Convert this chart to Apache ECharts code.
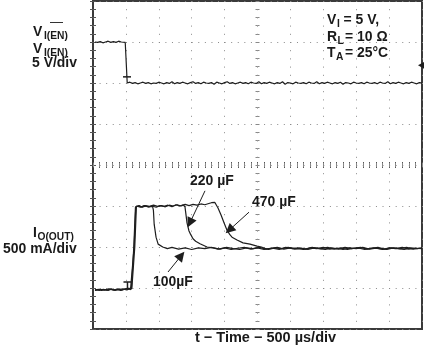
<!DOCTYPE html>
<html><head><meta charset="utf-8">
<script src="https://cdn.jsdelivr.net/npm/echarts@6/dist/echarts.min.js"></script>
<style>html,body{margin:0;padding:0;background:#fff}#c{width:424px;height:348px}</style>
</head><body><div id="c"></div>
<script>
// Time axis: µs (500 µs/div, 10 div); vertical axis: divisions from screen centre (8 div)
const timeRange = [0, 5000];
const timeStep = 500;
const divRange = [-4, 4];

// Channel 1: enable voltage (5 V/div)
const enableTrace = [
[30,3.0],[70,2.99],[110,3.01],[150,2.98],[190,3.0],[230,3.02],[270,2.99],[310,3.01],[350,2.99],[390,3.02],[430,3.0],[460,3.03],[490,2.99],[510,3.02],[517,3.0],
[520,2.0],[530,1.96],[545,2.03],[560,2.02],[600,1.99],[640,2.01],[680,1.98],[720,2.00],[760,2.02],[800,1.99],[840,2.01],[880,1.98],[920,2.00],[960,1.99],[1000,2.02],[1040,2.00],[1080,1.98],[1120,2.01],[1160,1.99],[1200,2.03],[1240,1.98],[1280,2.01],[1320,1.99],[1360,2.02],[1400,2.00],[1440,1.98],[1480,2.01],[1520,2.03],[1560,1.99],[1600,2.01],[1640,1.98],[1680,2.02],[1720,2.00],[1760,1.99],[1800,2.01],[1840,1.97],[1880,2.02],[1920,2.00],[1960,1.98],[2000,2.01],[2040,2.03],[2080,1.99],[2120,2.01],[2160,1.98],[2200,2.00],[2240,2.02],[2280,1.99],[2320,2.01],[2360,1.98],[2400,2.02],[2440,2.00],[2480,1.99],[2520,2.03],[2560,1.98],[2600,2.01],[2640,1.99],[2680,2.02],[2720,2.00],[2760,1.98],[2800,2.01],[2840,1.99],[2880,2.03],[2920,1.97],[2960,2.01],[3000,2.00],[3040,1.98],[3080,2.02],[3120,2.00],[3160,1.99],[3200,2.01],[3240,1.98],[3280,2.02],[3320,2.00],[3360,1.99],[3400,2.03],[3440,1.98],[3480,2.01],[3520,1.99],[3560,2.02],[3600,2.00],[3640,1.98],[3680,2.01],[3720,1.99],[3760,2.02],[3800,1.97],[3840,2.01],[3880,2.00],[3920,1.98],[3960,2.02],[4000,2.00],[4040,1.99],[4080,2.01],[4120,1.98],[4160,2.02],[4200,2.00],[4240,1.99],[4280,2.01],[4320,1.98],[4360,2.02],[4400,2.00],[4440,1.99],[4480,2.03],[4520,1.98],[4560,2.01],[4600,1.99],[4640,2.02],[4680,2.00],[4720,1.98],[4760,2.01],[4800,1.99],[4840,2.02],[4880,2.00],[4920,1.98],[4960,2.01],[5000,2.00]
];

// Channel 2: output current (500 mA/div), three load capacitances
const current100uF = [
[30,-3.05],[80,-3.03],[130,-3.06],[180,-3.04],[230,-3.06],[280,-3.03],[330,-3.05],[380,-3.02],[430,-3.05],[480,-3.03],[530,-3.0],[570,-3.04],[600,-3.0],[625,-2.0],[650,-1.02],[700,-0.99],[750,-1.03],[800,-1.0],[850,-1.02],[905,-1.01],[918,-1.1],[930,-1.45],[958,-1.76],[990,-1.93],[1060,-2.0],[1130,-2.04],[1200,-2.01],[1300,-2.05],[1400,-2.02],[1500,-2.06],[1600,-2.02],[1700,-2.04],[1800,-2.01],[1900,-2.05],[2000,-2.02],[2100,-2.06],[2200,-2.03],[2300,-2.01],[2400,-2.05],[2500,-2.02],[2600,-2.06],[2700,-2.03],[2800,-2.01],[2900,-2.05],[3000,-2.02],[3100,-2.04],[3200,-2.06],[3300,-2.02],[3400,-2.04],[3500,-2.01],[3600,-2.05],[3700,-2.03],[3800,-2.06],[3900,-2.02],[4000,-2.04],[4100,-2.01],[4200,-2.05],[4300,-2.03],[4400,-2.06],[4500,-2.02],[4600,-2.04],[4700,-2.01],[4800,-2.05],[4900,-2.03],[5000,-2.04]
];
const current220uF = [
[30,-3.04],[95,-3.06],[155,-3.03],[215,-3.05],[275,-3.02],[335,-3.06],[395,-3.04],[455,-3.02],[515,-3.05],[555,-3.01],[590,-3.02],[610,-3.02],[635,-2.0],[660,-1.0],[720,-1.03],[780,-0.99],[840,-1.02],[900,-1.0],[960,-1.03],[1020,-0.99],[1080,-1.01],[1140,-0.98],[1200,-1.02],[1260,-0.97],[1320,-1.0],[1370,-0.97],[1398,-1.02],[1429,-1.41],[1459,-1.61],[1480,-1.68],[1520,-1.80],[1560,-1.86],[1626,-1.92],[1733,-2.0],[1830,-2.02],[1930,-2.05],[2030,-2.01],[2130,-2.04],[2230,-2.06],[2330,-2.02],[2430,-2.04],[2530,-2.01],[2630,-2.05],[2730,-2.03],[2830,-2.06],[2930,-2.01],[3030,-2.04],[3130,-2.02],[3230,-2.05],[3330,-2.01],[3430,-2.04],[3530,-2.06],[3630,-2.02],[3730,-2.05],[3830,-2.01],[3930,-2.04],[4030,-2.02],[4130,-2.06],[4230,-2.03],[4330,-2.01],[4430,-2.05],[4530,-2.02],[4630,-2.04],[4730,-2.06],[4830,-2.02],[4930,-2.04],[5000,-2.02]
];
const current470uF = [
[30,-3.06],[110,-3.03],[170,-3.05],[240,-3.02],[300,-3.05],[360,-3.03],[420,-3.06],[490,-3.02],[545,-3.03],[585,-2.99],[595,-3.02],[620,-2.0],[645,-1.03],[690,-1.0],[740,-1.02],[790,-0.99],[860,-1.01],[920,-0.98],[980,-1.01],[1040,-0.99],[1100,-1.02],[1160,-0.98],[1220,-1.0],[1280,-0.97],[1340,-1.0],[1400,-0.96],[1460,-0.99],[1520,-0.96],[1580,-0.98],[1640,-0.95],[1700,-0.97],[1760,-0.94],[1800,-0.92],[1824,-0.90],[1850,-0.91],[1870,-0.95],[1900,-1.05],[1946,-1.22],[1991,-1.41],[2037,-1.59],[2080,-1.70],[2113,-1.76],[2189,-1.83],[2280,-1.90],[2386,-1.93],[2493,-1.98],[2560,-2.0],[2610,-2.03],[2666,-2.06],[2766,-2.02],[2866,-2.04],[2966,-2.01],[3066,-2.05],[3166,-2.03],[3266,-2.06],[3366,-2.02],[3466,-2.04],[3566,-2.01],[3666,-2.05],[3766,-2.02],[3866,-2.06],[3966,-2.03],[4066,-2.01],[4166,-2.05],[4266,-2.02],[4366,-2.04],[4466,-2.06],[4566,-2.02],[4666,-2.04],[4766,-2.01],[4866,-2.05],[4966,-2.03],[5000,-2.04]
];

// Annotation arrows (from label toward curve), in [µs, div]
const arrowStarts = [[1702,-0.63],[2371,-1.15],[1140,-2.61]];
const arrowEnds   = [[1473,-1.41],[2072,-1.585],[1341,-2.21]];
// Scope markers
const ch1Marker = [517, 2.15];
const ch2Marker = [524, -2.93];
const trigLevel = [4985, 2.43];

const ink = '#1e1e1e';
const dotGray = '#8a8a8a';

function xAx(pos, offset, inside, split, tickColor, len) {
  return {type:'value', min:timeRange[0], max:timeRange[1], interval:timeStep, position:pos, offset:offset,
    axisLine:{show:false}, axisLabel:{show:false},
    axisTick:{show:true, inside:inside, length:len, lineStyle:{color:tickColor, width:1}},
    minorTick:{show:true, splitNumber:5, length:len, lineStyle:{color:tickColor, width:1}},
    splitLine:{show:split, lineStyle:{color:dotGray, width:1, type:[1,7.2]}}};
}
function yAx(pos, offset, inside, split, tickColor, len) {
  return {type:'value', min:divRange[0], max:divRange[1], interval:1, position:pos, offset:offset,
    axisLine:{show:false}, axisLabel:{show:false},
    axisTick:{show:true, inside:inside, length:len, lineStyle:{color:tickColor, width:1}},
    minorTick:{show:true, splitNumber:5, length:len, lineStyle:{color:tickColor, width:1}},
    splitLine:{show:split, lineStyle:{color:dotGray, width:1, type:[1,5.58]}}};
}

const lineBase = {type:'line', symbol:'none', showSymbol:false, silent:true, xAxisIndex:0, yAxisIndex:0, z:3,
  lineStyle:{color:ink, width:1.2}};

function txt(s, x, base, size, sx) {
  return {type:'text', x:x, y:base - 0.35*size, scaleX:sx, z:10, silent:true,
    style:{text:s, font:'bold ' + size + 'px "Liberation Sans", Arial, sans-serif', fill:'#1a1a1a', align:'left', verticalAlign:'middle'}};
}
const S = 0.93, M = 15, B = 11;
const graphics = [
  txt('V', 33, 37, M, S), txt('I(EN)', 44, 39.5, B, S),
  {type:'line', shape:{x1:50,y1:22.5,x2:63,y2:22.5}, style:{stroke:'#333', lineWidth:1}, z:10, silent:true},
  txt('V', 33, 54, M, S), txt('I(EN)', 44, 56.5, B, S),
  txt('5 V/div', 32, 68, M, S),
  txt('I', 33, 238, M, S), txt('O(OUT)', 37.5, 240.5, B, S),
  txt('500 mA/div', 3, 254, M, S),
  txt('V', 327, 25, M, S), txt('I', 337, 28, B, S), txt('= 5 V,', 343.5, 25, M, S),
  txt('R', 327, 42, M, S), txt('L', 337.5, 45, B, S), txt('= 10 Ω', 345, 42, M, S),
  txt('T', 327, 58, M, S), txt('A', 336, 61, B, S), txt('= 25°C', 345, 58, M, S),
  txt('220 µF', 190, 186.5, M, S), txt('470 µF', 252, 207, M, S), txt('100µF', 153, 287, M, S),
  txt('t − Time − 500 µs/div', 195, 343, 14.5, 1)
];

const chart = echarts.init(document.getElementById('c'), null, {renderer:'canvas'});
chart.setOption({
  animation:false,
  backgroundColor:'#fff',
  grid:{left:93, top:1, width:329, height:328, show:true, borderColor:'#3a3a3a', borderWidth:2, containLabel:false},
  xAxis:[xAx('bottom',0,true,true,'#555',3), xAx('top',0,true,false,'#555',3),
         xAx('bottom',-164,true,false,'#888',2), xAx('bottom',-164,false,false,'#888',2)],
  yAxis:[yAx('left',0,true,true,'#555',3), yAx('right',0,true,false,'#555',3),
         yAx('left',-164.5,true,false,'#888',2), yAx('left',-164.5,false,false,'#888',2)],
  series:[
    Object.assign({}, lineBase, {name:'EN', data:enableTrace,
      markPoint:{silent:true, label:{show:false}, itemStyle:{color:ink},
        data:[{coord:ch1Marker, symbol:'rect', symbolSize:[8,1.5]},
              {coord:trigLevel, symbol:'triangle', symbolRotate:90, symbolSize:[7,6]}]}}),
    Object.assign({}, lineBase, {name:'100uF', data:current100uF,
      markPoint:{silent:true, label:{show:false}, itemStyle:{color:ink},
        data:[{coord:ch2Marker, symbol:'path://M0,0L8,0L8,1.5L4.75,1.5L4.75,8L3.25,8L3.25,1.5L0,1.5Z', symbolSize:[8,8]}]}}),
    Object.assign({}, lineBase, {name:'220uF', data:current220uF}),
    Object.assign({}, lineBase, {name:'470uF', data:current470uF,
      markLine:{silent:true, animation:false, symbol:['none','triangle'], symbolSize:10, label:{show:false},
        lineStyle:{color:ink, width:1, type:'solid'}, itemStyle:{color:ink},
        data: arrowStarts.map((s,i)=>[{coord:s},{coord:arrowEnds[i]}])}})
  ],
  graphic:graphics
});
</script>
</body></html>
